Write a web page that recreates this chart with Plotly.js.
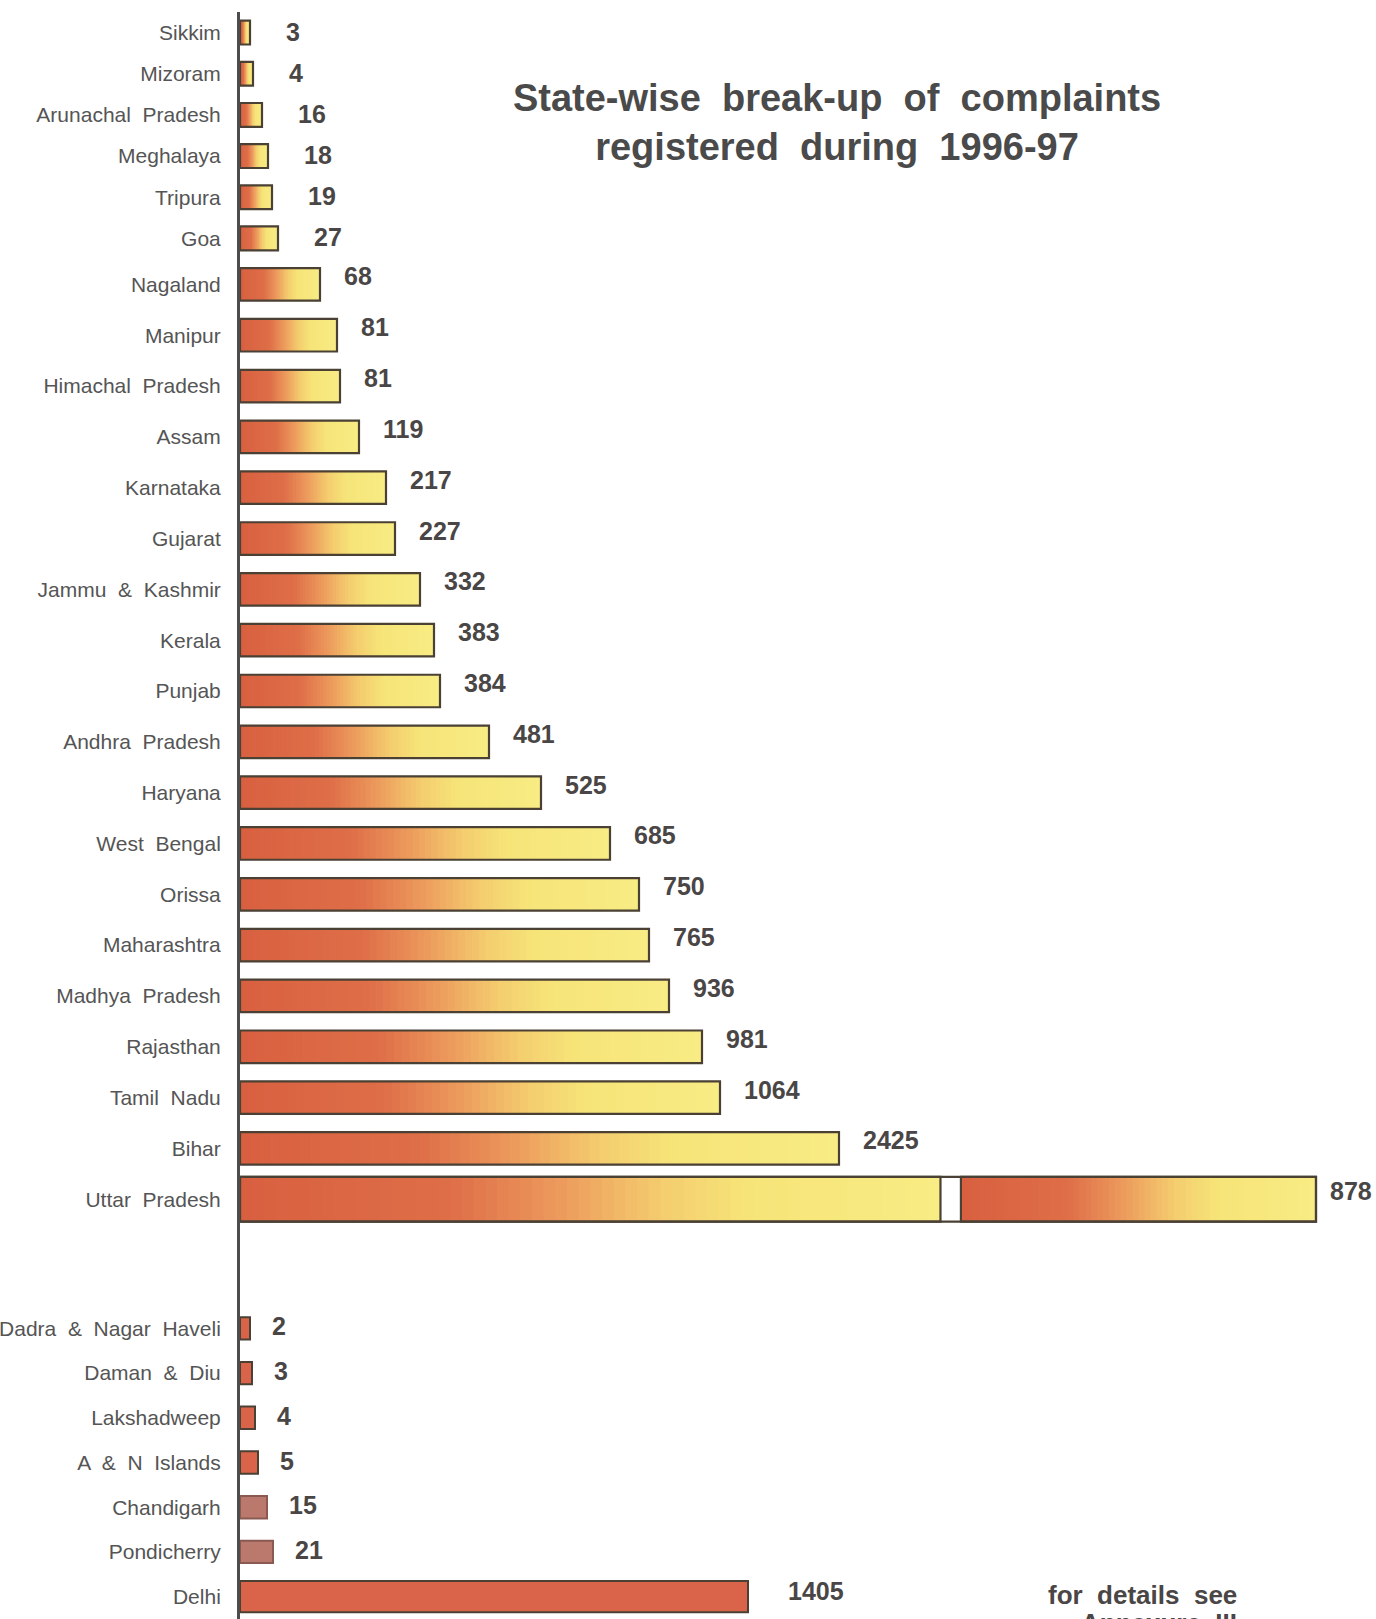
<!DOCTYPE html>
<html>
<head>
<meta charset="utf-8">
<script src="https://cdn.plot.ly/plotly-3.0.1.min.js"></script>
<style>
  html, body { margin: 0; padding: 0; background: #ffffff; }
  #chart { width: 1376px; height: 1619px; }
</style>
</head>
<body>
<div id="chart"></div>
<script>
// ---------------- DATA ----------------
// States, top to bottom
const states = [
  'Sikkim', 'Mizoram', 'Arunachal Pradesh', 'Meghalaya', 'Tripura', 'Goa',
  'Nagaland', 'Manipur', 'Himachal Pradesh', 'Assam', 'Karnataka', 'Gujarat',
  'Jammu & Kashmir', 'Kerala', 'Punjab', 'Andhra Pradesh', 'Haryana',
  'West Bengal', 'Orissa', 'Maharashtra', 'Madhya Pradesh', 'Rajasthan',
  'Tamil Nadu', 'Bihar', 'Uttar Pradesh'
];
// Printed figures (Uttar Pradesh's figure is cut off at the page edge: only "878" is visible)
const stateLabels = [
  '3', '4', '16', '18', '19', '27', '68', '81', '81', '119', '217', '227',
  '332', '383', '384', '481', '525', '685', '750', '765', '936', '981',
  '1064', '2425', '878'
];
// The original is not drawn to scale: these are the bar lengths as measured in the picture
const stateBarLength = [
  10, 13, 22, 28, 32, 38, 80, 97, 100, 119, 146, 155,
  180, 194, 200, 249, 301, 370, 399, 409, 429, 462,
  480, 599, 1076
];

// Union territories, top to bottom
const uts = [
  'Dadra & Nagar Haveli', 'Daman & Diu', 'Lakshadweep', 'A & N Islands',
  'Chandigarh', 'Pondicherry', 'Delhi'
];
const utLabels = ['2', '3', '4', '5', '15', '21', '1405'];
const utBarLength = [10, 12, 15, 18, 27, 33, 508];

// ---------------- STYLE ----------------
const brokenState = 'Uttar Pradesh';          // drawn with a break in the bar
const breakFrac = [0.651, 0.670];             // break position as fraction of its bar
const tightRows = 6;                          // the first rows are set closer together
const textColor = '#4a4646';
const labelColor = '#555555';
const outlineColor = '#4a4034';
const N = 60;                                 // gradient steps
const FONT = 'Liberation Sans, Arial, sans-serif';

const stops = [
  [0.00, [216, 96, 64]],
  [0.30, [222, 110, 72]],
  [0.45, [236, 152, 92]],
  [0.60, [244, 204, 110]],
  [0.72, [246, 228, 120]],
  [1.00, [248, 236, 132]]
];
function gradColor(t) {
  for (let i = 1; i < stops.length; i++) {
    if (t <= stops[i][0]) {
      const [t0, c0] = stops[i - 1], [t1, c1] = stops[i];
      const f = (t - t0) / (t1 - t0);
      const c = c0.map((v, j) => Math.round(v + (c1[j] - v) * f));
      return `rgb(${c[0]},${c[1]},${c[2]})`;
    }
  }
  const c = stops[stops.length - 1][1];
  return `rgb(${c[0]},${c[1]},${c[2]})`;
}
function piecesFor(name) {
  return name === brokenState ? [[0, breakFrac[0]], [breakFrac[1], 1]] : [[0, 1]];
}
function widthFor(i) {
  if (states[i] === brokenState) return 0.88;
  return i < tightRows ? 0.58 : 0.64;
}
function utWidth(name) { return name === 'Delhi' ? 0.7 : 0.5; }
function utColor(name) {
  return (name === 'Chandigarh' || name === 'Pondicherry') ? '#bb786c' : '#d9644a';
}
function utLine(name) {
  return (name === 'Chandigarh' || name === 'Pondicherry') ? '#8a5a52' : outlineColor;
}
const spaced = s => s.replace(/ /g, ' \u00a0');
const axisFor = i => (i < tightRows ? 'y3' : 'y');

// ---------------- TRACES ----------------
const traces = [];

function addStateTraces(yaxis) {
  const idx = states.map((s, i) => i).filter(i => axisFor(i) === yaxis);
  // gradient-filled bars (drawn as thin stacked steps)
  for (let p = 0; p < 2; p++) {
    for (let k = 0; k < N; k++) {
      const ys = [], bases = [], xs = [], ws = [];
      idx.forEach(i => {
        const s = states[i];
        const pcs = piecesFor(s);
        if (p >= pcs.length) return;
        const [a, b] = pcs[p];
        const L = stateBarLength[i];
        const base = L * (a + (b - a) * k / N);
        const step = L * (b - a) / N;
        ys.push(s);
        bases.push(base);
        xs.push(Math.min(step * 1.8, L * b - base));
        ws.push(widthFor(i));
      });
      if (!ys.length) continue;
      traces.push({
        type: 'bar', orientation: 'h', xaxis: 'x', yaxis: yaxis,
        y: ys, x: xs, base: bases, width: ws,
        marker: { color: gradColor((k + 0.5) / N), line: { width: 0 } },
        hoverinfo: 'skip', showlegend: false
      });
    }
  }
  // outlines
  traces.push({
    type: 'bar', orientation: 'h', xaxis: 'x', yaxis: yaxis,
    y: idx.map(i => states[i]), x: idx.map(i => stateBarLength[i]),
    base: idx.map(() => 0), width: idx.map(widthFor),
    marker: { color: 'rgba(0,0,0,0)', line: { color: outlineColor, width: 2.2 } },
    text: idx.map(i => stateLabels[i]), hovertemplate: '%{y}: %{text}<extra></extra>',
    textposition: 'none', showlegend: false
  });
  // outlines of the pieces of the broken bar
  const ys = [], xs = [], bases = [], ws = [];
  idx.forEach(i => {
    if (states[i] !== brokenState) return;
    piecesFor(states[i]).forEach(([a, b]) => {
      ys.push(states[i]); bases.push(stateBarLength[i] * a);
      xs.push(stateBarLength[i] * (b - a)); ws.push(widthFor(i));
    });
  });
  if (ys.length) {
    traces.push({
      type: 'bar', orientation: 'h', xaxis: 'x', yaxis: yaxis,
      y: ys, x: xs, base: bases, width: ws,
      marker: { color: 'rgba(0,0,0,0)', line: { color: outlineColor, width: 2.2 } },
      hoverinfo: 'skip', showlegend: false
    });
  }
}
addStateTraces('y3');
addStateTraces('y');

// union territory bars (solid)
traces.push({
  type: 'bar', orientation: 'h', xaxis: 'x', yaxis: 'y2',
  y: uts, x: utBarLength, base: uts.map(() => 0),
  width: uts.map(utWidth),
  marker: { color: uts.map(utColor), line: { color: uts.map(utLine), width: 2 } },
  text: utLabels, hovertemplate: '%{y}: %{text}<extra></extra>',
  textposition: 'none', showlegend: false
});

// ---------------- LABELS ----------------
const annotations = [];
states.forEach((s, i) => {
  const tight = i < tightRows;
  annotations.push({
    xref: 'x', yref: axisFor(i), x: stateBarLength[i], y: s,
    text: '<b>' + stateLabels[i] + '</b>', showarrow: false,
    xanchor: 'left', yanchor: 'middle',
    xshift: tight ? 34 : (s === brokenState ? 12 : 22), yshift: tight ? 1 : 8,
    font: { family: FONT, size: 25, color: textColor }
  });
});
uts.forEach((s, i) => {
  annotations.push({
    xref: 'x', yref: 'y2', x: utBarLength[i], y: s,
    text: '<b>' + utLabels[i] + '</b>', showarrow: false,
    xanchor: 'left', yanchor: 'middle', xshift: (s === 'Delhi' ? 38 : 20), yshift: (s === 'Delhi' ? 6 : 2),
    font: { family: FONT, size: 25, color: textColor }
  });
});
annotations.push({
  xref: 'paper', yref: 'paper', x: 0.8952, y: 0.0255,
  xanchor: 'right', yanchor: 'top', align: 'right', showarrow: false,
  text: '<b>' + spaced('for details see') + '</b>',
  font: { family: FONT, size: 26, color: textColor }
});
annotations.push({
  xref: 'paper', yref: 'paper', x: 0.8952, y: 0.0255, yshift: -28,
  xanchor: 'right', yanchor: 'top', align: 'right', showarrow: false,
  text: '<b>' + spaced('Annexure III') + '</b>',
  font: { family: FONT, size: 26, color: textColor }
});

const axisCommon = {
  type: 'category', showline: true, linecolor: '#4d4d4d', linewidth: 3,
  ticks: '', showgrid: false, zeroline: false, automargin: false,
  ticklabelstandoff: 12, fixedrange: true,
  tickfont: { family: FONT, size: 21, color: labelColor }
};

const layout = {
  width: 1376, height: 1619,
  margin: { l: 240, r: 20, t: 12, b: 0 },
  paper_bgcolor: '#ffffff', plot_bgcolor: '#ffffff',
  barmode: 'overlay', showlegend: false,
  title: {
    text: '<b>' + spaced('State-wise break-up of complaints') + '<br>' +
          spaced('registered during 1996-97') + '</b>',
    font: { family: FONT, size: 38, color: '#4a4a4a' },
    xref: 'container', x: 0.6083, xanchor: 'center',
    yref: 'container', y: 0.9316, yanchor: 'top'
  },
  xaxis: { range: [0, 1116], visible: false, fixedrange: true, anchor: 'y2' },
  yaxis3: Object.assign({}, axisCommon, {
    domain: [0.8463, 1],
    categoryorder: 'array', categoryarray: states,
    tickvals: states.slice(0, tightRows), ticktext: states.slice(0, tightRows).map(spaced),
    range: [tightRows - 0.5, -0.5]
  }),
  yaxis: Object.assign({}, axisCommon, {
    domain: [0.2454, 0.8463],
    categoryorder: 'array', categoryarray: states,
    tickvals: states.slice(tightRows), ticktext: states.slice(tightRows).map(spaced),
    range: [states.length - 0.5, tightRows - 0.5]
  }),
  yaxis2: Object.assign({}, axisCommon, {
    domain: [0, 0.2454],
    categoryorder: 'array', categoryarray: uts,
    tickvals: uts, ticktext: uts.map(spaced),
    range: [uts.length - 0.5, -2.32]
  }),
  annotations: annotations
};

Plotly.newPlot('chart', traces, layout, { displayModeBar: false });
</script>
</body>
</html>
